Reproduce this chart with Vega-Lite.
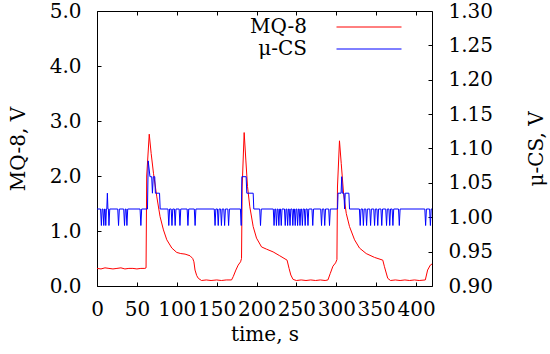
{
  "$schema": "https://vega.github.io/schema/vega-lite/v6.json",
  "width": 335,
  "height": 275,
  "autosize": "none",
  "padding": {"left": 97, "top": 11, "right": 118, "bottom": 68},
  "background": "white",
  "config": {
    "view": {"stroke": "black", "strokeWidth": 1},
    "font": "DejaVu Serif",
    "axis": {
      "labelFont": "DejaVu Serif", "titleFont": "DejaVu Serif",
      "labelColor": "#000", "titleColor": "#000", "tickColor": "#000",
      "labelFontSize": 20, "titleFontSize": 20, "titleFontWeight": "normal",
      "grid": false, "domain": false, "tickSize": -4, "tickWidth": 1,
      "labelOverlap": false, "labelFlush": false, "labelBound": false
    },
    "legend": {"labelFont": "DejaVu Serif", "labelFontSize": 20, "labelColor": "#000"}
  },
  "datasets": {
    "mq8": [
      {"t":0,"v":0.32},{"t":5,"v":0.31},{"t":10,"v":0.33},{"t":15,"v":0.32},{"t":20,"v":0.31},{"t":25,"v":0.32},{"t":30,"v":0.33},{"t":35,"v":0.31},{"t":40,"v":0.32},{"t":45,"v":0.32},{"t":50,"v":0.31},{"t":55,"v":0.32},{"t":60,"v":0.32},{"t":61.5,"v":0.33},{"t":62.3,"v":2.0},{"t":65.5,"v":2.76},{"t":67.9,"v":2.41},{"t":70.8,"v":2.05},{"t":75,"v":1.62},{"t":79.1,"v":1.26},{"t":83.3,"v":1.02},{"t":87.5,"v":0.84},{"t":93.8,"v":0.69},{"t":100,"v":0.61},{"t":105,"v":0.59},{"t":110.4,"v":0.58},{"t":116.6,"v":0.55},{"t":120,"v":0.5},{"t":121.5,"v":0.44},{"t":122.9,"v":0.29},{"t":125,"v":0.19},{"t":127,"v":0.14},{"t":131,"v":0.1},{"t":137,"v":0.11},{"t":143,"v":0.1},{"t":150,"v":0.11},{"t":156,"v":0.1},{"t":162,"v":0.11},{"t":168.7,"v":0.11},{"t":170.8,"v":0.17},{"t":174.1,"v":0.29},{"t":177,"v":0.38},{"t":180,"v":0.44},{"t":181.2,"v":0.5},{"t":182,"v":1.8},{"t":184.5,"v":2.79},{"t":186.6,"v":2.29},{"t":188.7,"v":1.81},{"t":191.6,"v":1.44},{"t":195.8,"v":1.08},{"t":200,"v":0.87},{"t":206.3,"v":0.71},{"t":212.5,"v":0.67},{"t":220.8,"v":0.62},{"t":229.1,"v":0.55},{"t":238.3,"v":0.47},{"t":240.8,"v":0.32},{"t":243,"v":0.2},{"t":245.8,"v":0.12},{"t":250,"v":0.1},{"t":256,"v":0.11},{"t":262,"v":0.1},{"t":268,"v":0.11},{"t":274,"v":0.1},{"t":280,"v":0.11},{"t":286,"v":0.1},{"t":289.5,"v":0.11},{"t":292.5,"v":0.23},{"t":295.8,"v":0.36},{"t":299.1,"v":0.42},{"t":300.8,"v":0.48},{"t":301.5,"v":1.8},{"t":304,"v":2.64},{"t":306.2,"v":2.23},{"t":309.1,"v":1.69},{"t":312.5,"v":1.32},{"t":316.6,"v":1.08},{"t":322.9,"v":0.84},{"t":329.1,"v":0.69},{"t":337.5,"v":0.59},{"t":347.9,"v":0.52},{"t":358.3,"v":0.47},{"t":360.4,"v":0.35},{"t":364.5,"v":0.14},{"t":368,"v":0.1},{"t":374,"v":0.11},{"t":380,"v":0.1},{"t":386,"v":0.11},{"t":392,"v":0.1},{"t":398,"v":0.11},{"t":404,"v":0.1},{"t":411.6,"v":0.11},{"t":414.5,"v":0.29},{"t":417.9,"v":0.38},{"t":420,"v":0.4}
    ],
    "ucs": [
      {"t":0,"v":1.012},
      {"t":4.5,"v":1.012},{"t":5.5,"v":0.988},{"t":6.5,"v":1.012},
      {"t":7.5,"v":1.012},{"t":8.5,"v":0.988},{"t":9.5,"v":1.012},
      {"t":10.2,"v":1.012},{"t":11,"v":0.988},{"t":11.8,"v":1.012},
      {"t":12.3,"v":1.012},{"t":13,"v":1.035},{"t":13.7,"v":1.012},
      {"t":14.3,"v":1.012},{"t":15,"v":0.988},{"t":16,"v":1.012},
      {"t":26,"v":1.012},{"t":27,"v":0.988},{"t":28,"v":1.012},
      {"t":33.5,"v":1.012},{"t":34.5,"v":0.988},{"t":35.5,"v":1.012},
      {"t":36.5,"v":1.012},{"t":37.5,"v":0.988},{"t":38.5,"v":1.012},
      {"t":54,"v":1.012},{"t":55,"v":0.988},{"t":56,"v":1.012},
      {"t":63.3,"v":1.012},{"t":64.2,"v":1.082},{"t":66.4,"v":1.059},{"t":68.6,"v":1.059},{"t":69.5,"v":1.035},{"t":70.6,"v":1.059},{"t":72.4,"v":1.059},{"t":73.2,"v":1.035},{"t":78.4,"v":1.035},{"t":79.2,"v":1.012},
      {"t":89,"v":1.012},{"t":90,"v":0.988},{"t":91,"v":1.012},
      {"t":93,"v":1.012},{"t":94,"v":0.988},{"t":95,"v":1.012},
      {"t":97,"v":1.012},{"t":98,"v":0.988},{"t":99,"v":1.012},
      {"t":103,"v":1.012},{"t":104,"v":0.988},{"t":105,"v":1.012},
      {"t":113,"v":1.012},{"t":114,"v":0.988},{"t":115,"v":1.012},
      {"t":122,"v":1.012},{"t":123,"v":0.988},{"t":124,"v":1.012},
      {"t":147,"v":1.012},{"t":148,"v":0.988},{"t":149,"v":1.012},
      {"t":151,"v":1.012},{"t":152,"v":0.988},{"t":153,"v":1.012},
      {"t":155,"v":1.012},{"t":156,"v":0.988},{"t":157,"v":1.012},
      {"t":159,"v":1.012},{"t":160,"v":0.988},{"t":161,"v":1.012},
      {"t":164,"v":1.012},{"t":165,"v":0.988},{"t":166,"v":1.012},
      {"t":179.8,"v":1.012},{"t":180.8,"v":0.988},{"t":181.6,"v":1.059},{"t":187,"v":1.059},{"t":187.8,"v":1.035},{"t":195.8,"v":1.035},{"t":196.6,"v":1.012},
      {"t":204,"v":1.012},{"t":205,"v":0.988},{"t":206,"v":1.012},
      {"t":221,"v":1.012},{"t":222,"v":0.988},{"t":223,"v":1.012},
      {"t":224,"v":1.012},{"t":225,"v":0.988},{"t":226,"v":1.012},
      {"t":227,"v":1.012},{"t":228,"v":0.988},{"t":229,"v":1.012},
      {"t":230,"v":1.012},{"t":231,"v":0.988},{"t":232,"v":1.012},
      {"t":235,"v":1.012},{"t":236,"v":0.988},{"t":237,"v":1.012},
      {"t":238,"v":1.012},{"t":239,"v":0.988},{"t":240,"v":1.012},
      {"t":241,"v":1.012},{"t":242,"v":0.988},{"t":243,"v":1.012},
      {"t":244.5,"v":1.012},{"t":245.5,"v":0.988},{"t":246.5,"v":1.012},
      {"t":247.5,"v":1.012},{"t":248.5,"v":0.988},{"t":249.5,"v":1.012},
      {"t":250.5,"v":1.012},{"t":251.5,"v":0.988},{"t":252.5,"v":1.012},
      {"t":253.5,"v":1.012},{"t":254.5,"v":0.988},{"t":255.5,"v":1.012},
      {"t":256.5,"v":1.012},{"t":257.5,"v":0.988},{"t":258.5,"v":1.012},
      {"t":260,"v":1.012},{"t":261,"v":0.988},{"t":262,"v":1.012},
      {"t":263.5,"v":1.012},{"t":264.5,"v":0.988},{"t":265.5,"v":1.012},
      {"t":269.5,"v":1.012},{"t":270.5,"v":0.988},{"t":271.5,"v":1.012},
      {"t":280.5,"v":1.012},{"t":281.5,"v":0.988},{"t":282.5,"v":1.012},
      {"t":284.5,"v":1.012},{"t":285.5,"v":0.988},{"t":286.5,"v":1.012},
      {"t":290.5,"v":1.012},{"t":291.5,"v":0.988},{"t":292.5,"v":1.012},
      {"t":301.6,"v":1.012},{"t":302.2,"v":1.035},{"t":306,"v":1.035},{"t":306.8,"v":1.059},{"t":307.6,"v":1.035},{"t":309.6,"v":1.035},{"t":310.4,"v":1.012},{"t":311.2,"v":1.035},{"t":315.8,"v":1.035},{"t":316.6,"v":1.012},
      {"t":329,"v":1.012},{"t":330,"v":0.988},{"t":331,"v":1.012},
      {"t":333,"v":1.012},{"t":334,"v":0.988},{"t":335,"v":1.012},
      {"t":337,"v":1.012},{"t":338,"v":0.988},{"t":339,"v":1.012},
      {"t":342,"v":1.012},{"t":343,"v":0.988},{"t":344,"v":1.012},
      {"t":347,"v":1.012},{"t":348,"v":0.988},{"t":349,"v":1.012},
      {"t":351,"v":1.012},{"t":352,"v":0.988},{"t":353,"v":1.012},
      {"t":356,"v":1.012},{"t":357,"v":0.988},{"t":358,"v":1.012},
      {"t":362,"v":1.012},{"t":363,"v":0.988},{"t":364,"v":1.012},
      {"t":366,"v":1.012},{"t":367,"v":0.988},{"t":368,"v":1.012},
      {"t":370,"v":1.012},{"t":371,"v":0.988},{"t":372,"v":1.012},
      {"t":378,"v":1.012},{"t":379,"v":0.988},{"t":380,"v":1.012},
      {"t":411,"v":1.012},{"t":412,"v":0.988},{"t":413,"v":1.012},
      {"t":417,"v":1.012},{"t":418,"v":0.988},{"t":419,"v":1.012},
      {"t":420,"v":1.012}
    ]
  },
  "layer": [
    {
      "data": {"name": "mq8"},
      "mark": {"type": "line", "strokeWidth": 1},
      "encoding": {
        "x": {"field": "t", "type": "quantitative", "scale": {"domain": [0, 420], "nice": false, "zero": false},
          "axis": {"orient": "bottom", "values": [0,50,100,150,200,250,300,350,400], "format": "d", "title": "time, s", "titleFontWeight": "normal", "labelPadding": 17, "labelDx": 2, "titlePadding": 5}},
        "y": {"field": "v", "type": "quantitative", "scale": {"domain": [0, 5], "nice": false},
          "axis": {"orient": "left", "values": [0,1,2,3,4,5], "format": ".1f", "title": "MQ-8, V", "titleFontWeight": "normal", "labelPadding": 20, "titlePadding": 21}},
        "color": {"datum": "MQ-8", "type": "nominal",
          "scale": {"domain": ["MQ-8", "μ-CS"], "range": ["#ff0000", "#0000ff"]},
          "legend": {"orient": "none", "legendX": 262, "legendY": 6, "title": null, "symbolType": "M-5,0H5", "symbolSize": 169, "symbolStrokeWidth": 1, "labelAlign": "right", "labelOffset": -72, "padding": 0, "rowPadding": 2, "labelLimit": 200}}
      }
    },
    {
      "data": {"name": "ucs"},
      "mark": {"type": "line", "strokeWidth": 1},
      "encoding": {
        "x": {"field": "t", "type": "quantitative", "scale": {"domain": [0, 420], "nice": false, "zero": false},
          "axis": {"orient": "top", "values": [0,50,100,150,200,250,300,350,400], "labels": false, "title": null}},
        "y": {"field": "v", "type": "quantitative", "scale": {"domain": [0.9, 1.3], "nice": false, "zero": false},
          "axis": {"orient": "right", "values": [0.9,0.95,1.0,1.05,1.1,1.15,1.2,1.25,1.3], "format": ".2f", "title": "μ-CS, V", "titleFontWeight": "normal", "titleAngle": 270, "labelPadding": 20, "titlePadding": 54}},
        "color": {"datum": "μ-CS", "type": "nominal"}
      }
    }
  ],
  "resolve": {"scale": {"y": "independent"}, "axis": {"x": "independent", "y": "independent"}}
}
